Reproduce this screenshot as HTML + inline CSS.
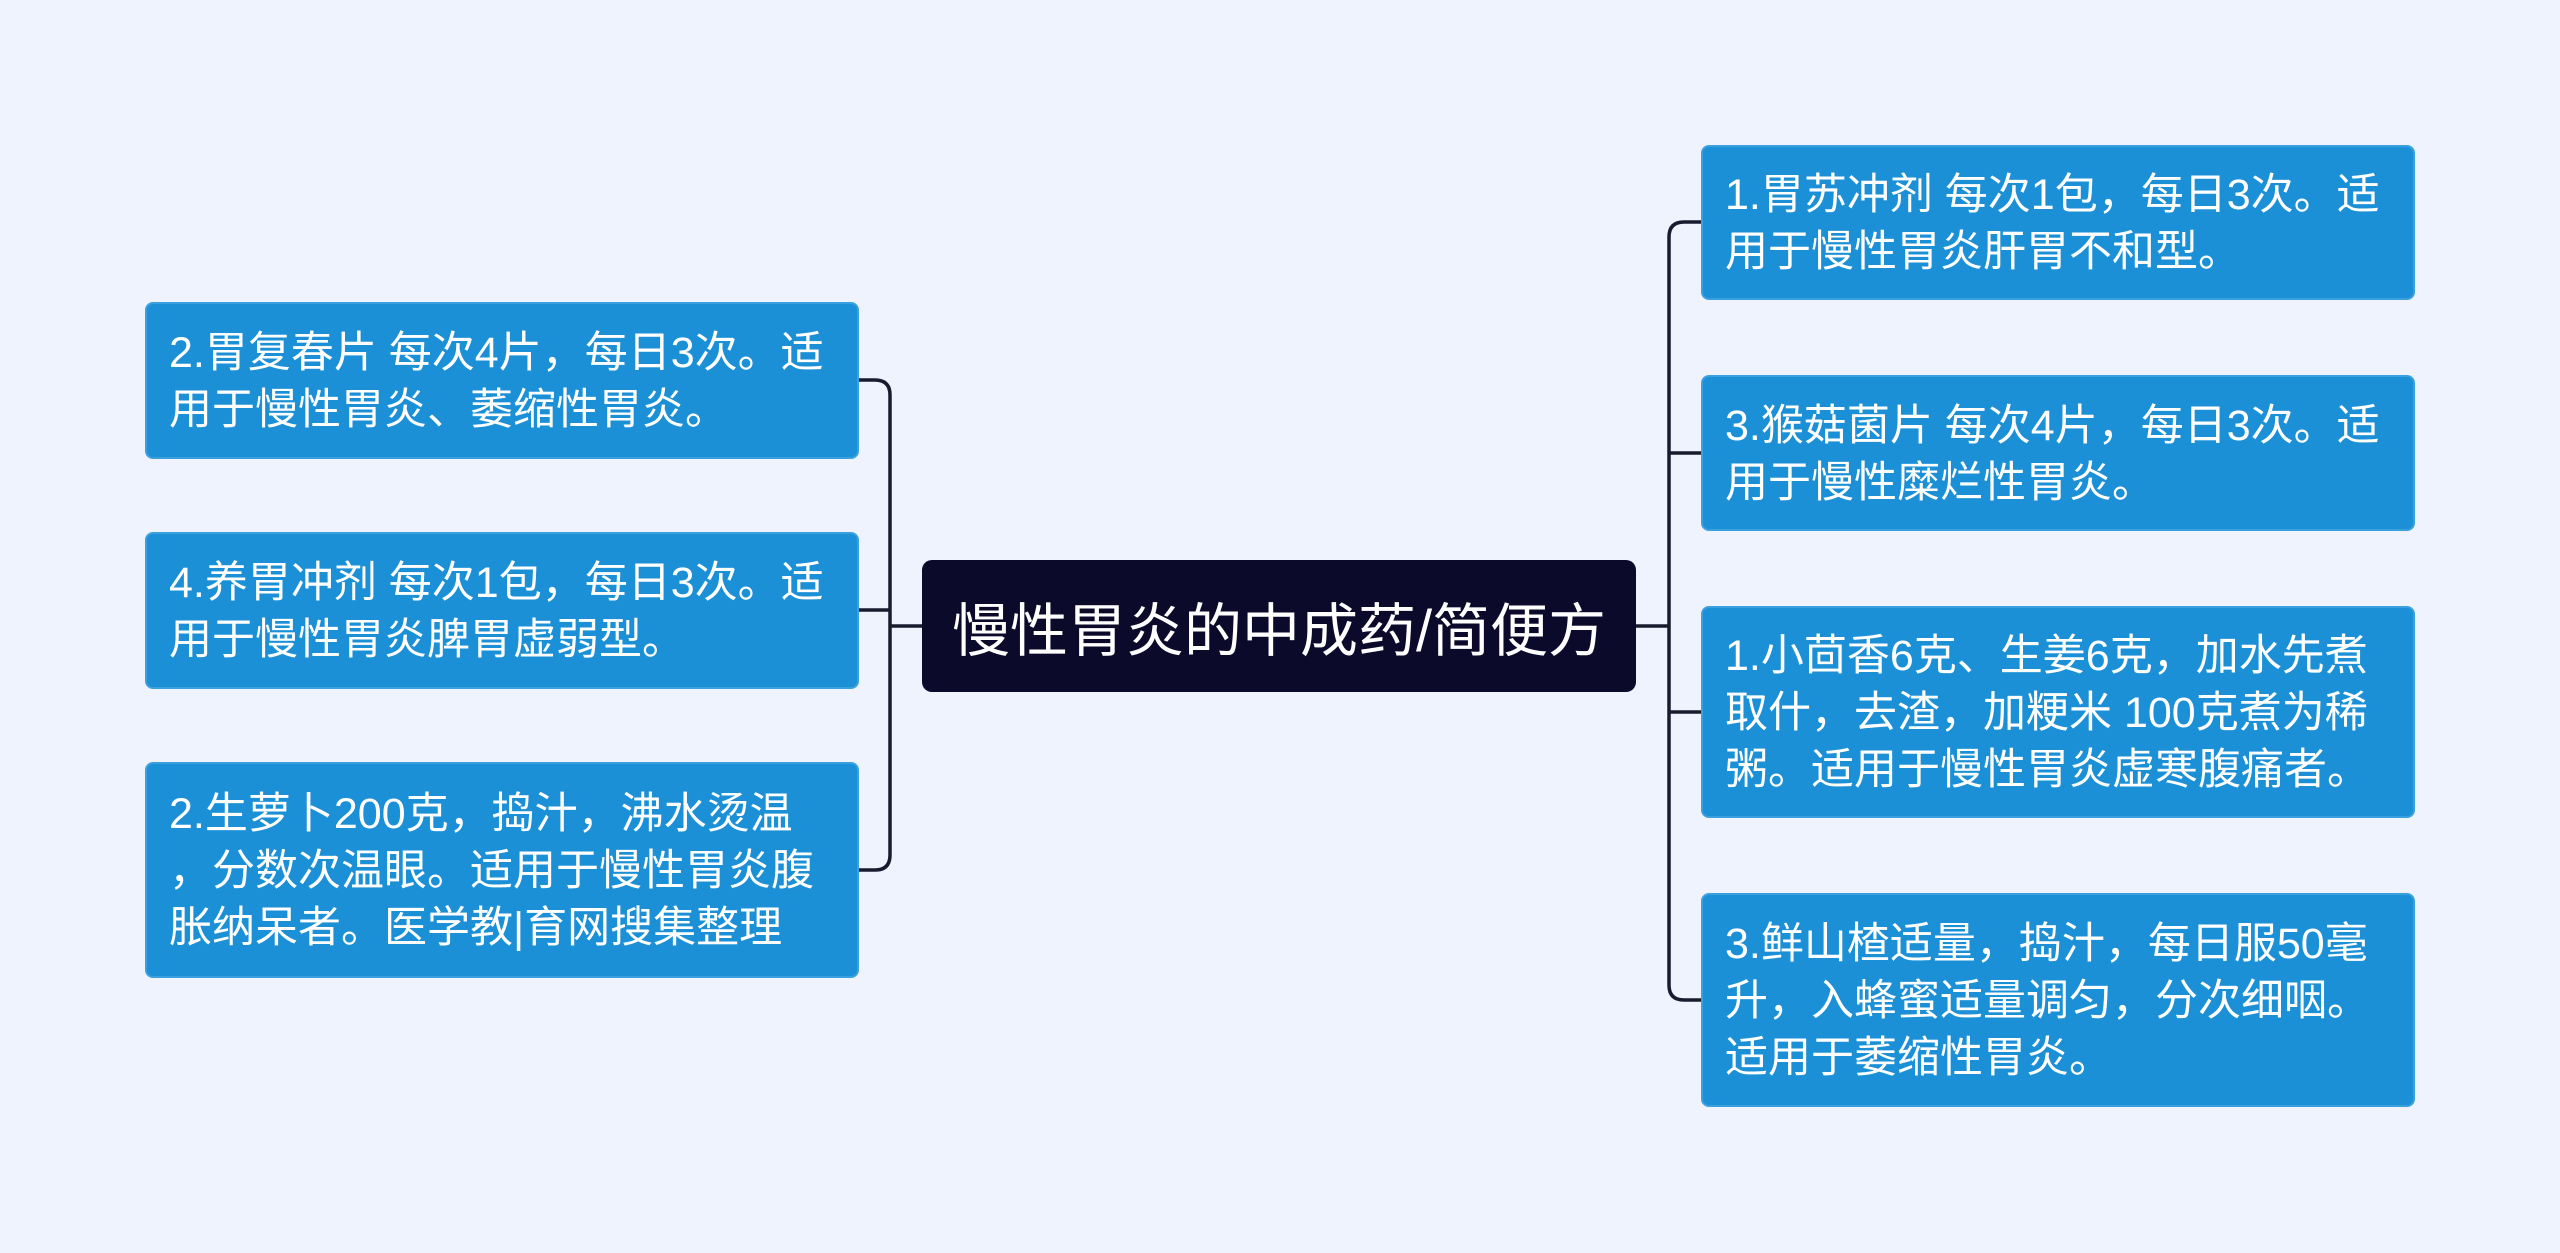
<!DOCTYPE html>
<html><head><meta charset="utf-8"><style>
html,body{margin:0;padding:0;}
body{width:2560px;height:1253px;background:#eef3fd;position:relative;overflow:hidden;font-family:"Liberation Sans","Noto Sans CJK SC",sans-serif;}
.n{position:absolute;background:#1b90d6;border:2px solid #3aa0e0;border-radius:8px;color:#fff;font-size:43px;line-height:57px;padding:3px 0 0 22px;box-sizing:border-box;white-space:nowrap;display:flex;align-items:center;}
.c{position:absolute;left:922px;top:560px;width:714px;height:132px;background:#0c0a2b;border-radius:10px;color:#fff;font-size:58px;display:flex;align-items:center;justify-content:center;}
svg{position:absolute;left:0;top:0;}
</style></head><body>
<svg width="2560" height="1253"><g fill="none" stroke="#1a1a2e" stroke-width="3.5">
<path d="M922 626 H890"/>
<path d="M859 380 H875 Q890 380 890 395 V855 Q890 870 875 870 H859"/>
<path d="M859 610 H890"/>
<path d="M1636 626 H1669"/>
<path d="M1701 222 H1684 Q1669 222 1669 237 V985 Q1669 1000 1684 1000 H1701"/>
<path d="M1669 453 H1701"/>
<path d="M1669 712 H1701"/>
</g></svg>
<div class="c">慢性胃炎的中成药/简便方</div>
<div class="n" style="left:145px;top:302px;width:714px;height:157px"><div>2.胃复春片 每次4片，每日3次。适<br>用于慢性胃炎、萎缩性胃炎。</div></div>
<div class="n" style="left:145px;top:532px;width:714px;height:157px"><div>4.养胃冲剂 每次1包，每日3次。适<br>用于慢性胃炎脾胃虚弱型。</div></div>
<div class="n" style="left:145px;top:762px;width:714px;height:216px"><div>2.生萝卜200克，捣汁，沸水烫温<br>，分数次温眼。适用于慢性胃炎腹<br>胀纳呆者。医学教|育网搜集整理</div></div>
<div class="n" style="left:1701px;top:145px;width:714px;height:155px"><div>1.胃苏冲剂 每次1包，每日3次。适<br>用于慢性胃炎肝胃不和型。</div></div>
<div class="n" style="left:1701px;top:375px;width:714px;height:156px"><div>3.猴菇菌片 每次4片，每日3次。适<br>用于慢性糜烂性胃炎。</div></div>
<div class="n" style="left:1701px;top:606px;width:714px;height:212px"><div>1.小茴香6克、生姜6克，加水先煮<br>取什，去渣，加粳米 100克煮为稀<br>粥。适用于慢性胃炎虚寒腹痛者。</div></div>
<div class="n" style="left:1701px;top:893px;width:714px;height:214px"><div>3.鲜山楂适量，捣汁，每日服50毫<br>升，入蜂蜜适量调匀，分次细咽。<br>适用于萎缩性胃炎。</div></div>
</body></html>
